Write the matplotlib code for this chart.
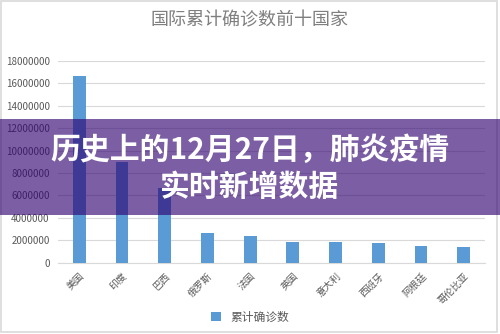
import matplotlib.pyplot as plt
from matplotlib.patches import Rectangle

plt.rcParams['font.family'] = ['Noto Sans CJK SC', 'DejaVu Sans']

# data
countries = ['美国', '印度', '巴西', '俄罗斯', '法国', '英国', '意大利', '西班牙', '阿根廷', '哥伦比亚']
confirmed = [16650000, 9000000, 6650000, 2620000, 2390000, 1820000, 1820000, 1740000, 1520000, 1430000]
yticks = list(range(0, 18000001, 2000000))

title = '国际累计确诊数前十国家'
legend_label = '累计确诊数'
banner_lines = ['历史上的12月27日，肺炎疫情', '实时新增数据']

fig = plt.figure(figsize=(5, 3.34), dpi=100)
ax = fig.add_axes([0.116, 0.2135, 0.854, 0.6045])

x = range(len(countries))
ax.bar(x, confirmed, width=0.3, color='#5b9bd5', label=legend_label, zorder=3)

ax.set_xlim(-0.5, len(countries) - 0.5)
ax.set_ylim(0, 18000000)
ax.set_yticks(yticks)
ax.set_yticklabels([str(v) for v in yticks])
ax.grid(axis='y', color='#d9d9d9', linewidth=0.8, zorder=0)
for s in ['top', 'right', 'left']:
    ax.spines[s].set_visible(False)
ax.spines['bottom'].set_color('#d9d9d9')
ax.tick_params(axis='both', length=0, colors='#595959', labelsize=7)
ax.tick_params(axis='y', pad=6)
ax.tick_params(axis='x', pad=6)
ax.set_xticks(list(x))
ax.set_xticklabels(countries, rotation=45, ha='right', rotation_mode='anchor', fontsize=7)

fig.text(0.5, 0.94, title, ha='center', va='center', fontsize=13, color='#7f7f7f')
fig.legend(loc='lower center', bbox_to_anchor=(0.5, 0.0), frameon=False,
           fontsize=8.5, handlelength=0.8, handleheight=0.8, labelcolor='#595959')

# outer frame
fig.patches.append(Rectangle((0.002, 0.006), 0.992, 0.99, transform=fig.transFigure,
                             fill=False, edgecolor='#d9d9d9', linewidth=1.2))

# banner overlay
fig.patches.append(Rectangle((0, 1 - 215 / 334), 1, 96 / 334, transform=fig.transFigure,
                             facecolor='#2e006e', alpha=0.63, edgecolor='none', zorder=10))
fig.text(0.5, 1 - 150 / 334, banner_lines[0], ha='center', va='center', fontsize=21.5,
         fontweight='bold', color='white', zorder=11)
fig.text(0.5, 1 - 187 / 334, banner_lines[1], ha='center', va='center', fontsize=21.5,
         fontweight='bold', color='white', zorder=11)

fig.savefig('out.png', dpi=100)
